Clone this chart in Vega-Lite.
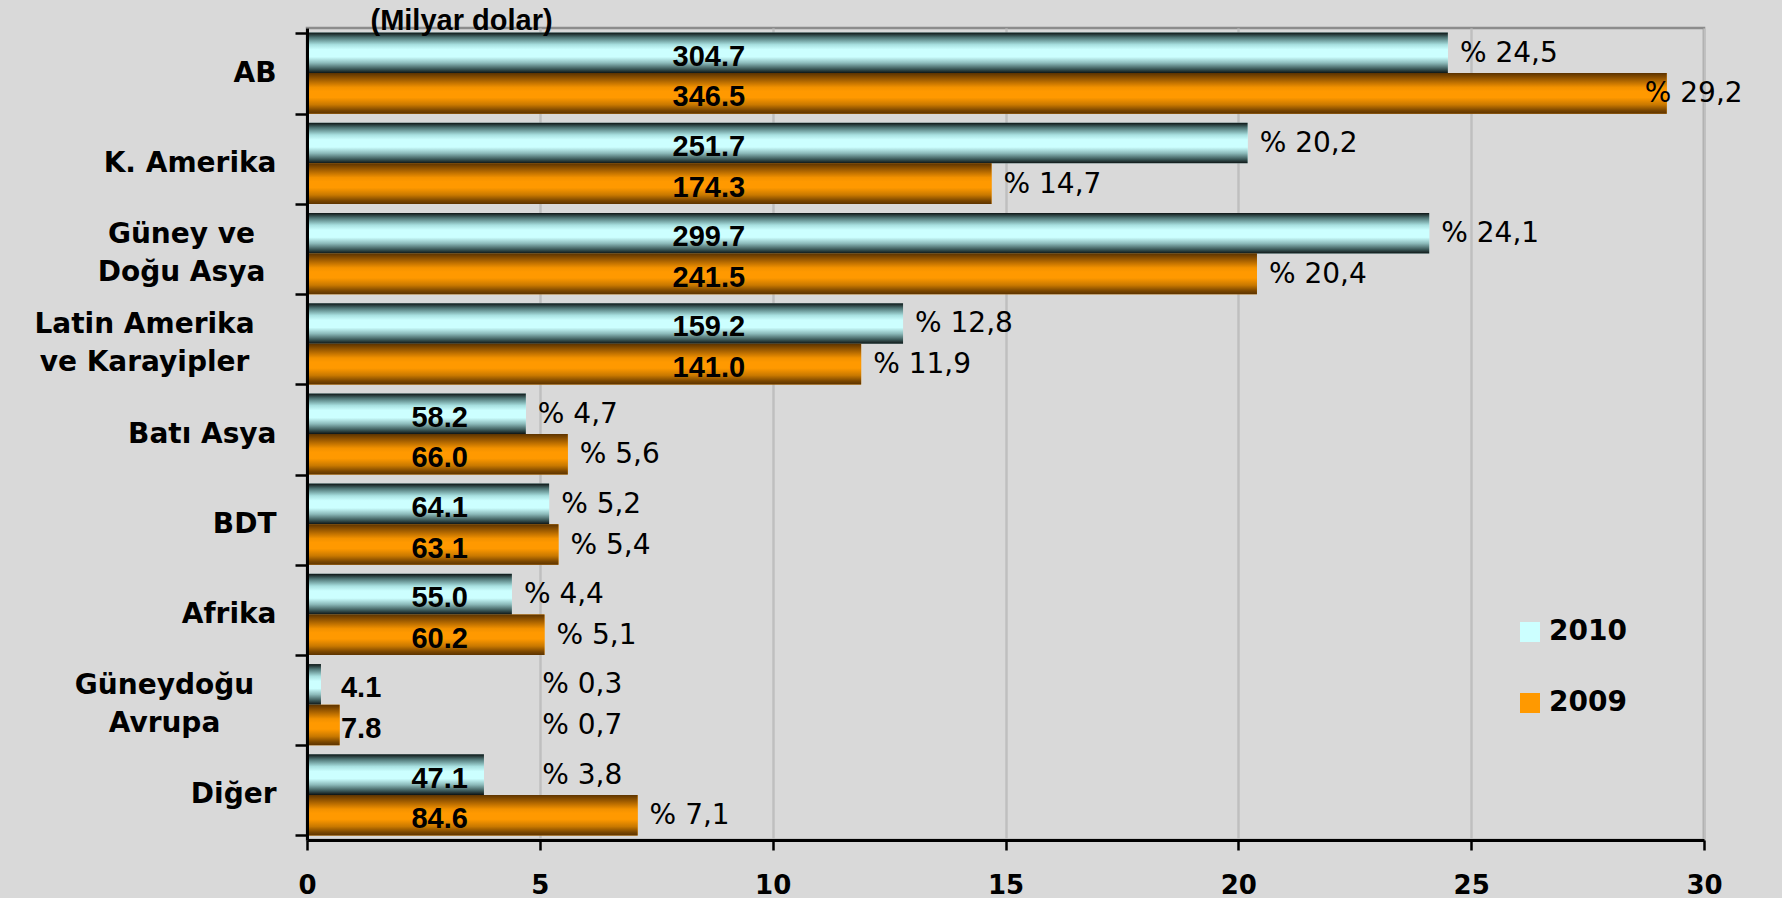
{
  "$schema": "https://vega.github.io/schema/vega-lite/v6.json",
  "width": 1397,
  "height": 812,
  "autosize": {"type": "none"},
  "padding": {"left": 307, "top": 28, "right": 78, "bottom": 58},
  "background": "#d9d9d9",
  "config": {
    "view": {"stroke": "#8c8c8c", "strokeWidth": 2.5, "fill": "#d9d9d9"}
  },
  "data": {
    "values": [
      {"region": "AB", "year": "2010", "pct": 24.5, "value": 304.7},
      {"region": "AB", "year": "2009", "pct": 29.2, "value": 346.5},
      {"region": "K. Amerika", "year": "2010", "pct": 20.2, "value": 251.7},
      {"region": "K. Amerika", "year": "2009", "pct": 14.7, "value": 174.3},
      {"region": "Güney ve Doğu Asya", "year": "2010", "pct": 24.1, "value": 299.7},
      {"region": "Güney ve Doğu Asya", "year": "2009", "pct": 20.4, "value": 241.5},
      {"region": "Latin Amerika ve Karayipler", "year": "2010", "pct": 12.8, "value": 159.2},
      {"region": "Latin Amerika ve Karayipler", "year": "2009", "pct": 11.9, "value": 141.0},
      {"region": "Batı Asya", "year": "2010", "pct": 4.7, "value": 58.2},
      {"region": "Batı Asya", "year": "2009", "pct": 5.6, "value": 66.0},
      {"region": "BDT", "year": "2010", "pct": 5.2, "value": 64.1},
      {"region": "BDT", "year": "2009", "pct": 5.4, "value": 63.1},
      {"region": "Afrika", "year": "2010", "pct": 4.4, "value": 55.0},
      {"region": "Afrika", "year": "2009", "pct": 5.1, "value": 60.2},
      {"region": "Güneydoğu Avrupa", "year": "2010", "pct": 0.3, "value": 4.1},
      {"region": "Güneydoğu Avrupa", "year": "2009", "pct": 0.7, "value": 7.8},
      {"region": "Diğer", "year": "2010", "pct": 3.8, "value": 47.1},
      {"region": "Diğer", "year": "2009", "pct": 7.1, "value": 84.6}
    ]
  },
  "transform": [
    {"calculate": "'% ' + replace(format(datum.pct, '.1f'), '.', ',')", "as": "pctLabel"}
  ],
  "encoding": {
    "y": {
      "field": "region",
      "type": "nominal",
      "sort": ["AB", "K. Amerika", "Güney ve Doğu Asya", "Latin Amerika ve Karayipler", "Batı Asya", "BDT", "Afrika", "Güneydoğu Avrupa", "Diğer"],
      "scale": {"paddingInner": 0.1, "paddingOuter": 0.05},
      "axis": {
        "title": "(Milyar dolar)",
        "titleAngle": 0,
        "titleX": 63,
        "titleY": 1,
        "titleAlign": "left",
        "titleBaseline": "alphabetic",
        "titleFont": "Liberation Sans",
        "titleFontSize": 29,
        "titleFontWeight": "bold",
        "titleColor": "black",
        "tickBand": "extent",
        "tickSize": 12,
        "tickWidth": 2.5,
        "tickColor": "black",
        "domainColor": "black",
        "domainWidth": 3,
        "labelFont": "DejaVu Sans",
        "labelFontWeight": "bold",
        "labelFontSize": 28,
        "labelColor": "black",
        "labelLineHeight": 38,
        "labelLimit": 400,
        "zindex": 1,
        "labelExpr": "datum.value == 'Güney ve Doğu Asya' ? ['Güney ve', 'Doğu Asya'] : datum.value == 'Latin Amerika ve Karayipler' ? ['Latin Amerika', 've Karayipler'] : datum.value == 'Güneydoğu Avrupa' ? ['Güneydoğu', 'Avrupa'] : datum.label",
        "labelAlign": {
          "condition": {"test": "datum.value == 'Güney ve Doğu Asya' || datum.value == 'Latin Amerika ve Karayipler' || datum.value == 'Güneydoğu Avrupa'", "value": "center"},
          "value": "right"
        },
        "labelPadding": {
          "condition": [
            {"test": "datum.value == 'Güney ve Doğu Asya'", "value": 114},
            {"test": "datum.value == 'Latin Amerika ve Karayipler'", "value": 151},
            {"test": "datum.value == 'Güneydoğu Avrupa'", "value": 131}
          ],
          "value": 19
        },
        "labelOffset": {
          "condition": {"test": "datum.value == 'Güney ve Doğu Asya' || datum.value == 'Latin Amerika ve Karayipler' || datum.value == 'Güneydoğu Avrupa'", "value": -19},
          "value": 0
        }
      }
    },
    "yOffset": {
      "field": "year",
      "type": "nominal",
      "scale": {"domain": ["2010", "2009"], "paddingInner": 0, "paddingOuter": 0}
    }
  },
  "layer": [
    {
      "mark": {"type": "bar"},
      "encoding": {
        "x": {
          "field": "pct",
          "type": "quantitative",
          "scale": {"domain": [0, 30], "nice": false},
          "axis": {
            "title": null,
            "values": [0, 5, 10, 15, 20, 25, 30],
            "grid": true,
            "gridColor": "#bfbfbf",
            "gridWidth": 2.5,
            "tickSize": 10,
            "tickWidth": 2.5,
            "tickColor": "black",
            "domainColor": "black",
            "domainWidth": 3,
            "labelFont": "DejaVu Sans",
            "labelFontWeight": "bold",
            "labelFontSize": 26,
            "labelColor": "black",
            "labelPadding": 22,
            "labelFlush": false
          }
        },
        "color": {
          "field": "year",
          "type": "nominal",
          "scale": {"domain": ["2010", "2009"], "range": ["#ccffff", "#ff9900"]},
          "legend": {
            "title": null,
            "orient": "none",
            "legendX": 1209,
            "legendY": 590,
            "padding": 0,
            "symbolType": "square",
            "symbolSize": 400,
            "symbolStrokeWidth": 0,
            "labelFont": "DejaVu Sans",
            "labelFontWeight": "bold",
            "labelFontSize": 28,
            "labelColor": "black",
            "labelOffset": 5,
            "rowPadding": 43
          }
        }
      }
    },
    {
      "transform": [{"filter": "datum.year == '2010'"}],
      "mark": {
        "type": "bar",
        "color": {"gradient": "linear", "x1": 0, "y1": 0, "x2": 0, "y2": 1, "stops": [
          {"offset": 0, "color": "#0d1414"},
          {"offset": 0.12, "color": "#4d7373"},
          {"offset": 0.3, "color": "#a8e0e0"},
          {"offset": 0.42, "color": "#ccffff"},
          {"offset": 0.6, "color": "#ccffff"},
          {"offset": 0.75, "color": "#8cbaba"},
          {"offset": 0.9, "color": "#3b5858"},
          {"offset": 1, "color": "#0d1414"}
        ]}
      },
      "encoding": {"x": {"field": "pct", "type": "quantitative"}}
    },
    {
      "transform": [{"filter": "datum.year == '2009'"}],
      "mark": {
        "type": "bar",
        "color": {"gradient": "linear", "x1": 0, "y1": 0, "x2": 0, "y2": 1, "stops": [
          {"offset": 0, "color": "#5c3300"},
          {"offset": 0.15, "color": "#9c5a00"},
          {"offset": 0.35, "color": "#f29100"},
          {"offset": 0.45, "color": "#ff9900"},
          {"offset": 0.6, "color": "#ff9900"},
          {"offset": 0.78, "color": "#c87800"},
          {"offset": 0.92, "color": "#7a4600"},
          {"offset": 1, "color": "#5c3300"}
        ]}
      },
      "encoding": {"x": {"field": "pct", "type": "quantitative"}}
    },
    {
      "transform": [{"filter": "datum.pct >= 10"}],
      "mark": {"type": "text", "align": "center", "baseline": "middle", "dy": 4, "font": "Liberation Sans", "fontSize": 29, "fontWeight": "bold", "color": "black"},
      "encoding": {
        "x": {"datum": 8.63, "type": "quantitative"},
        "text": {"field": "value", "type": "quantitative", "format": ".1f"}
      }
    },
    {
      "transform": [{"filter": "datum.pct < 10 && datum.pct >= 1"}],
      "mark": {"type": "text", "align": "center", "baseline": "middle", "dy": 4, "font": "Liberation Sans", "fontSize": 29, "fontWeight": "bold", "color": "black"},
      "encoding": {
        "x": {"datum": 2.85, "type": "quantitative"},
        "text": {"field": "value", "type": "quantitative", "format": ".1f"}
      }
    },
    {
      "transform": [{"filter": "datum.pct < 1"}],
      "mark": {"type": "text", "align": "left", "baseline": "middle", "dy": 4, "font": "Liberation Sans", "fontSize": 29, "fontWeight": "bold", "color": "black"},
      "encoding": {
        "x": {"datum": 0.73, "type": "quantitative"},
        "text": {"field": "value", "type": "quantitative", "format": ".1f"}
      }
    },
    {
      "transform": [{"filter": "!(datum.region == 'Güneydoğu Avrupa' || (datum.region == 'Diğer' && datum.year == '2010') || (datum.region == 'AB' && datum.year == '2009'))"}],
      "mark": {"type": "text", "align": "left", "baseline": "middle", "dx": 12, "dy": 1, "font": "DejaVu Sans", "fontSize": 28, "color": "black"},
      "encoding": {
        "x": {"field": "pct", "type": "quantitative"},
        "text": {"field": "pctLabel", "type": "nominal"}
      }
    },
    {
      "transform": [{"filter": "datum.region == 'Güneydoğu Avrupa' || (datum.region == 'Diğer' && datum.year == '2010')"}],
      "mark": {"type": "text", "align": "left", "baseline": "middle", "dy": 1, "font": "DejaVu Sans", "fontSize": 28, "color": "black"},
      "encoding": {
        "x": {"datum": 5.05, "type": "quantitative"},
        "text": {"field": "pctLabel", "type": "nominal"}
      }
    },
    {
      "transform": [{"filter": "datum.region == 'AB' && datum.year == '2009'"}],
      "mark": {"type": "text", "align": "left", "baseline": "middle", "dx": -22, "dy": 1, "font": "DejaVu Sans", "fontSize": 28, "color": "black"},
      "encoding": {
        "x": {"field": "pct", "type": "quantitative"},
        "text": {"field": "pctLabel", "type": "nominal"}
      }
    }
  ]
}
